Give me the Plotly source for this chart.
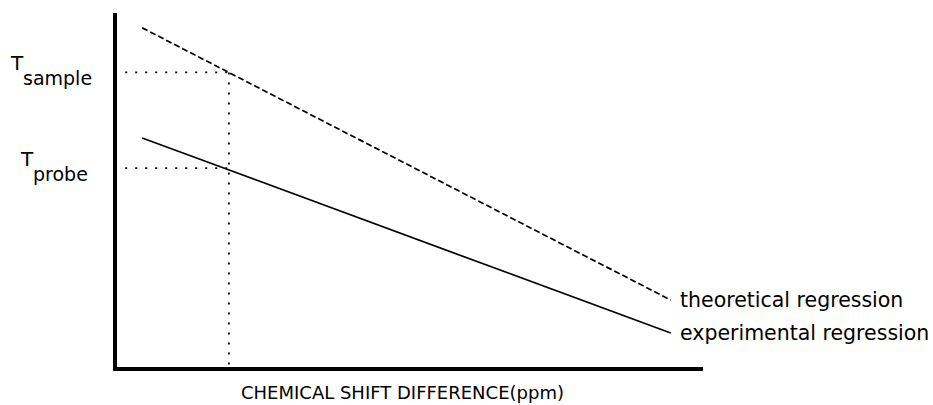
import plotly.graph_objects as go

# Regression lines: chemical shift difference (x) vs. temperature (y), arbitrary units
shift_ends = [0.43, 9.45]
theoretical_T = [9.58, 1.89]
experimental_T = [6.47, 0.96]

sample_shift = 1.91
T_sample = 8.32
T_probe = 5.62
guide_start = 0.14

line_labels = ["theoretical regression", "experimental regression"]
x_title = "CHEMICAL SHIFT DIFFERENCE(ppm)"

FONT = "DejaVu Sans"

fig = go.Figure()

fig.add_trace(go.Scatter(
    x=shift_ends, y=theoretical_T, mode="lines",
    line=dict(color="black", width=1.7, dash="6px,3px"), hoverinfo="skip"))
fig.add_trace(go.Scatter(
    x=shift_ends, y=experimental_T, mode="lines",
    line=dict(color="black", width=1.7), hoverinfo="skip"))

dot = dict(color="black", width=1.8, dash="2px,8px")
# horizontal guides to the temperature labels
fig.add_trace(go.Scatter(x=[guide_start, sample_shift], y=[T_sample, T_sample],
                         mode="lines", line=dot, hoverinfo="skip"))
fig.add_trace(go.Scatter(x=[guide_start, sample_shift], y=[T_probe, T_probe],
                         mode="lines", line=dot, hoverinfo="skip"))
# vertical guide down to the shift axis
fig.add_trace(go.Scatter(x=[sample_shift, sample_shift], y=[T_sample, 0.05],
                         mode="lines", line=dot, hoverinfo="skip"))

annotations = []
# temperature labels: "T" with a lowered subscript
for T_val, sub, xpos in [(T_sample, "sample", -0.162), (T_probe, "probe", -0.145)]:
    annotations.append(dict(
        xref="paper", yref="y", x=xpos, y=T_val, text="T", showarrow=False,
        xanchor="right", yanchor="bottom", xshift=4, yshift=-5,
        font=dict(family=FONT, size=20, color="black")))
    annotations.append(dict(
        xref="paper", yref="y", x=xpos, y=T_val, text=sub, showarrow=False,
        xanchor="left", yanchor="top", xshift=-1, yshift=7,
        font=dict(family=FONT, size=19, color="black")))

# line labels at the right-hand ends
for T_end, label in zip([theoretical_T[1], experimental_T[1]], line_labels):
    annotations.append(dict(
        xref="x", yref="y", x=shift_ends[1], y=T_end, text=label,
        showarrow=False, xanchor="left", yanchor="middle", xshift=7,
        yshift=0, font=dict(family=FONT, size=20.5, color="black")))

# axis title placed under the shift axis
annotations.append(dict(
    xref="paper", yref="paper", x=0.488, y=0, text=x_title, showarrow=False,
    xanchor="center", yanchor="middle", yshift=-25,
    font=dict(family=FONT, size=18, color="black")))

fig.update_layout(
    width=933, height=405,
    margin=dict(l=117, r=230, t=13, b=38),
    paper_bgcolor="white", plot_bgcolor="white",
    showlegend=False,
    annotations=annotations,
    xaxis=dict(range=[0, 10], showgrid=False, zeroline=False,
               showticklabels=False, ticks="", showline=True,
               linecolor="black", linewidth=4, fixedrange=True),
    yaxis=dict(range=[0, 10], showgrid=False, zeroline=False,
               showticklabels=False, ticks="", showline=True,
               linecolor="black", linewidth=4, fixedrange=True),
)

fig.write_html("out.html", config={"displayModeBar": False})
